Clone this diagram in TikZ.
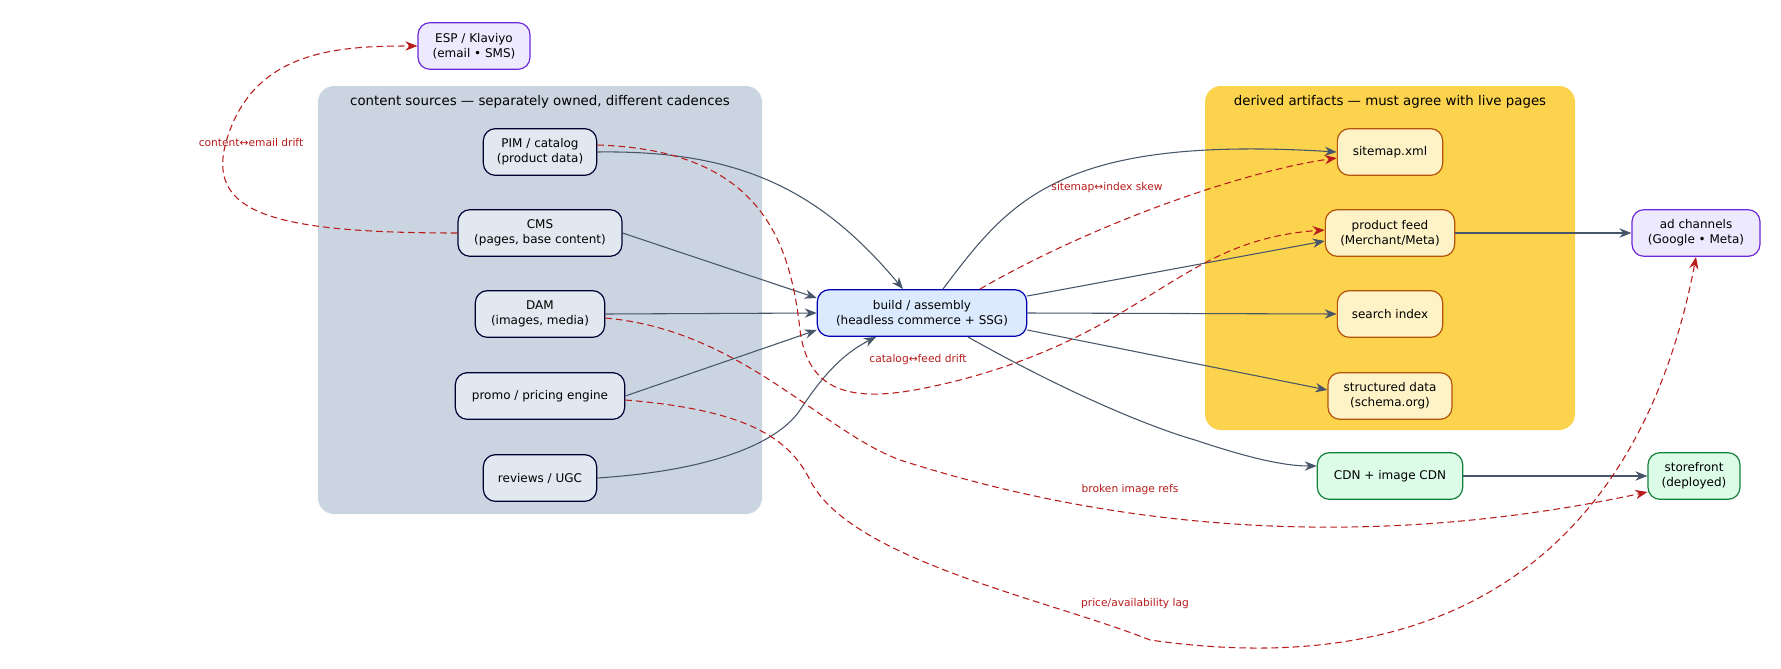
\documentclass[tikz,border=0pt]{standalone}
\usepackage{fontspec}
\setmainfont{DejaVu Sans}
\usetikzlibrary{arrows.meta}
\definecolor{edg}{HTML}{475569}
\definecolor{drift}{HTML}{B91C1C}
\tikzset{
 box/.style={draw=#1,rounded corners=9pt,line width=0.9pt,align=center,font=\fontsize{9}{11}\selectfont,inner sep=0pt,minimum height=35pt},
 src/.style={box=black!80!blue,fill=slate}, 
 art/.style={box=amberd,fill=amberl},
 pur/.style={box=purd,fill=purl},
 grn/.style={box=grnd,fill=grnl},
 con/.style={draw=edg,line width=0.8pt,-{Stealth[length=9pt,width=7pt]}},
 dr/.style={draw=drift,line width=0.8pt,dash pattern=on 5pt off 3pt,-{Stealth[length=9pt,width=7pt]}},
 lab/.style={text=drift,font=\fontsize{8}{10}\selectfont,inner sep=1pt},
}
\definecolor{slate}{HTML}{E2E8F0}
\definecolor{amberd}{HTML}{B45309}
\definecolor{amberl}{HTML}{FEF3C7}
\definecolor{purd}{HTML}{6D28D9}
\definecolor{purl}{HTML}{EDE9FE}
\definecolor{grnd}{HTML}{15803D}
\definecolor{grnl}{HTML}{DCFCE7}
\begin{document}
\begin{tikzpicture}[x=0.75pt,y=-0.75pt]
\useasboundingbox[fill=white] (0,0) rectangle (1781,668);
\fill[fill={rgb,255:red,203;green,213;blue,225},rounded corners=12pt] (318,86) rectangle (762,514);
\node[font=\fontsize{10}{12}\selectfont] (cl1) at (540,102) {content sources — separately owned, different cadences};
\fill[fill={rgb,255:red,252;green,211;blue,77},rounded corners=12pt] (1205,86) rectangle (1575,430);
\node[font=\fontsize{10}{12}\selectfont] (cl2) at (1390,102) {derived artifacts — must agree with live pages};

\node[pur,minimum width=84pt] (esp) at (474,46) {ESP / Klaviyo\\(email • SMS)};
\node[src,minimum width=85pt] (pim) at (540,152) {PIM / catalog\\(product data)};
\node[src,minimum width=123pt] (cms) at (540,233) {CMS\\(pages, base content)};
\node[src,minimum width=97pt] (dam) at (540,314) {DAM\\(images, media)};
\node[src,minimum width=127pt] (promo) at (540,396) {promo / pricing engine};
\node[src,minimum width=85pt] (rev) at (540,478) {reviews / UGC};
\node[box=blue!70!black,fill={rgb,255:red,219;green,234;blue,254},minimum width=157pt] (build) at (922,313) {build / assembly\\(headless commerce + SSG)};
\node[art,minimum width=79pt] (site) at (1390,152) {sitemap.xml};
\node[art,minimum width=97pt] (feed) at (1390,233) {product feed\\(Merchant/Meta)};
\node[art,minimum width=79pt] (search) at (1390,314) {search index};
\node[art,minimum width=93pt] (sd) at (1390,396) {structured data\\(schema.org)};
\node[pur,minimum width=96pt] (ad) at (1696,233) {ad channels\\(Google • Meta)};
\node[grn,minimum width=109pt] (cdn) at (1390,476) {CDN + image CDN};
\node[grn,minimum width=69pt] (store) at (1694,476) {storefront\\(deployed)};

\draw[con] (pim.east) .. controls (740,150) and (820,190) .. (903,289);
\draw[con] (cms.east) -- (build.west |- 0,298);
\draw[con] (dam.east) -- (build.west);
\draw[con] (promo.east) -- (build.west |- 0,330);
\draw[con] (rev.east) .. controls (720,470) and (780,440) .. (800,410) .. controls (820,380) and (840,355) .. (876,337);
\draw[con] (943,289) .. controls (1010,200) and (1060,135) .. (site.west);
\draw[con] (build.east |- 0,296) -- (feed.west |- 0,241);
\draw[con] (build.east) -- (search.west);
\draw[con] (build.east |- 0,330) -- (sd.west |- 0,390);
\draw[con] (968,337) .. controls (1080,400) and (1160,430) .. (1195,440) .. controls (1240,455) and (1280,466) .. (cdn.west |- 0,466);
\draw[con] (feed.east) -- (ad.west);
\draw[con] (cdn.east) -- (store.west);

\draw[dr] (cms.west) .. controls (260,233) and (200,210) .. (230,130) .. controls (260,50) and (340,46) .. (esp.west);
\node[lab] (l1) at (251,143) {content↔email drift};
\draw[dr] (pim.east |- 0,145) .. controls (760,150) and (790,240) .. (800,330) .. controls (810,410) and (880,400) .. (960,380) .. controls (1150,330) and (1180,240) .. (feed.west |- 0,230);
\node[lab] (l2) at (918,360) {catalog↔feed drift};
\draw[dr] (980,289) .. controls (1100,220) and (1250,170) .. (site.west |- 0,158);
\node[lab] (l3) at (1107,188) {sitemap↔index skew};
\draw[dr] (dam.east |- 0,318) .. controls (740,330) and (820,430) .. (900,460) .. controls (1150,540) and (1400,545) .. (store.west |- 0,492);
\node[lab] (l4) at (1130,490) {broken image refs};
\draw[dr] (promo.east |- 0,400) .. controls (750,410) and (790,440) .. (810,480) .. controls (850,560) and (1050,600) .. (1150,640) .. controls (1500,690) and (1650,500) .. (ad.south);
\node[lab] (l5) at (1135,604) {price/availability lag};
\end{tikzpicture}
\end{document}
